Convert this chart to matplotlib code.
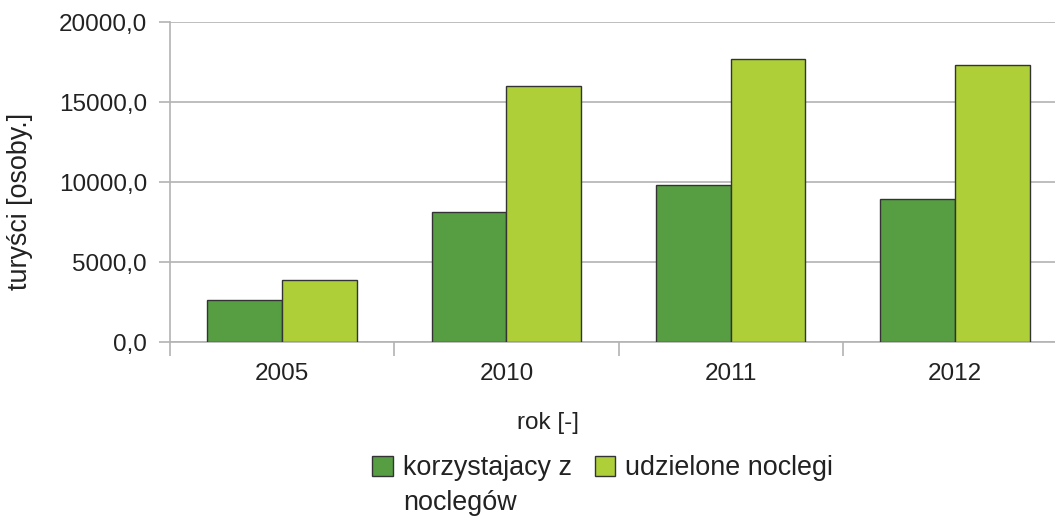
import numpy as np
import matplotlib
matplotlib.use("Agg")
import matplotlib.pyplot as plt
from matplotlib.ticker import FuncFormatter
from matplotlib.patches import Patch

plt.rcParams['font.family'] = ['Liberation Sans', 'DejaVu Sans']

lata = ['2005', '2010', '2011', '2012']
korzystajacy = [2640, 8155, 9820, 8950]
udzielone = [3890, 15985, 17670, 17315]

kolor1 = '#579d42'
kolor2 = '#aecf38'
siatka = '#b3b3b3'
tekst = '#222222'
fs = 17.5    # opisy osi
fs2 = 19.4   # legenda i tytul osi y

fig = plt.figure(figsize=(10.55, 5.18), dpi=100)
ax = fig.add_axes([170/1055, 175.7/518, 897/1055, 320.3/518])

x = np.arange(len(lata))
w = 1/3
ax.bar(x - w/2, korzystajacy, w, color=kolor1, edgecolor='#333333', linewidth=1, zorder=3)
ax.bar(x + w/2, udzielone, w, color=kolor2, edgecolor='#333333', linewidth=1, zorder=3)

ax.set_xlim(-0.5, 3.5)
ax.set_ylim(0, 20000)
ax.set_yticks([0, 5000, 10000, 15000, 20000])
ax.yaxis.set_major_formatter(FuncFormatter(lambda v, p: f'{v:.1f}'.replace('.', ',')))
ax.grid(axis='y', color=siatka, linewidth=1.2, zorder=0)

# podzialka x: kreski na granicach, opisy w srodku
ax.set_xticks(np.arange(-0.5, 4, 1))
ax.set_xticklabels([])
ax.set_xticks(x, minor=True)
ax.set_xticklabels(lata, minor=True)
ax.tick_params(axis='x', which='major', length=10, width=1.2, color=siatka, direction='out')
ax.tick_params(axis='x', which='minor', length=0, pad=15, labelsize=fs, labelcolor=tekst)
ax.tick_params(axis='y', length=8, width=1.2, color=siatka, pad=8.5, labelsize=fs, labelcolor=tekst)

for s in ['top', 'right']:
    ax.spines[s].set_visible(False)
for s in ['left', 'bottom']:
    ax.spines[s].set_color(siatka)
    ax.spines[s].set_linewidth(1.2)

ax.set_ylabel('turyści [osoby.]', fontsize=fs2, color=tekst)
ax.yaxis.set_label_coords(-0.153, 0.441)
fig.text(548/1055, 1 - 423/518, 'rok [-]', fontsize=fs, color=tekst, ha='center', va='center')

uchwyty = [Patch(facecolor=kolor1, edgecolor='#333333'), Patch(facecolor=kolor2, edgecolor='#333333')]
fig.legend(uchwyty, ['korzystajacy z', 'udzielone noclegi'], ncol=2, frameon=False,
           fontsize=fs2, loc='center left', bbox_to_anchor=(372/1055, 1 - 468/518),
           handlelength=0.77, handleheight=0.77, handletextpad=0.37, columnspacing=0.85,
           labelcolor=tekst, borderpad=0, borderaxespad=0)
# druga linia pierwszego wpisu legendy
fig.text(403/1055, 1 - 510/518, 'noclegów', fontsize=fs2, color=tekst, ha='left', va='baseline')

fig.savefig('out.png', dpi=100)
